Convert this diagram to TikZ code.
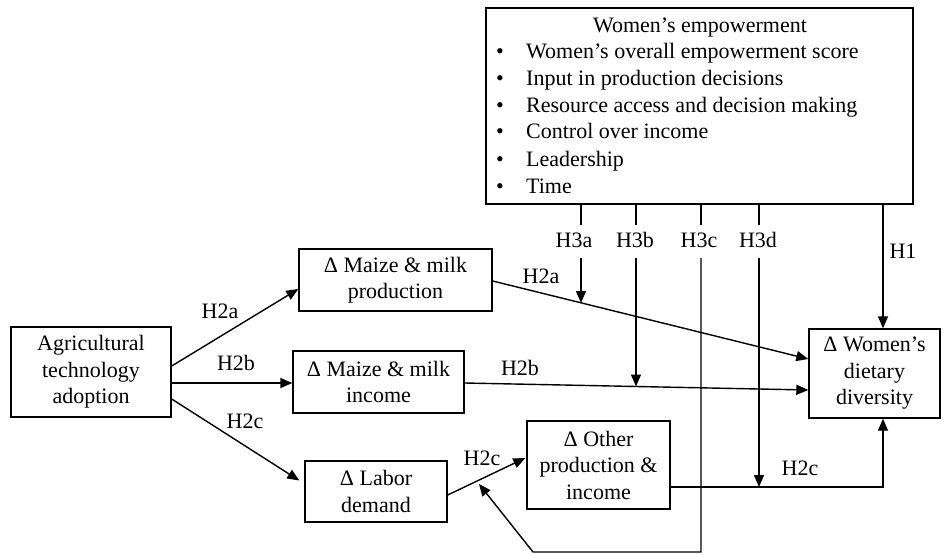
\documentclass[tikz,border=0pt]{standalone}
\usepackage{fontspec}
\setmainfont{Liberation Serif}
\usetikzlibrary{arrows.meta,calc}
\begin{document}
\begin{tikzpicture}[x=1pt,y=-1pt,
  box/.style={draw, line width=1.4pt, align=center, inner sep=0pt, font=\fontsize{22}{26.5}\selectfont},
  lbl/.style={inner sep=0pt, font=\fontsize{22}{26.5}\selectfont, text height=15pt, text depth=5pt},
  conn/.style={line width=1.4pt},
  arr/.style={line width=1.4pt, -{Triangle[length=12pt,width=10pt]}},
]
\useasboundingbox (0,0) rectangle (944,554);

% boxes
\node[box, minimum width=427pt, minimum height=196pt] (emp) at (699.5,106) {};
\node[box, minimum width=160pt, minimum height=90pt] (agri) at (91,372) {Agricultural\\technology\\adoption};
\node[box, minimum width=193pt, minimum height=62pt] (prod) at (395.5,280) {Δ Maize \& milk\\production};
\node[box, minimum width=171pt, minimum height=62pt] (inc) at (378.5,382) {Δ Maize \& milk\\income};
\node[box, minimum width=142pt, minimum height=61pt] (labor) at (376,491.5) {Δ Labor\\demand};
\node[box, minimum width=143pt, minimum height=88pt] (other) at (598.5,465) {Δ Other\\production \&\\income};
\node[box, minimum width=131pt, minimum height=89pt] (women) at (874.5,373.5) {Δ Women’s\\dietary\\diversity};

% empowerment text
\node[lbl] (t0) at (700,27) {Women’s empowerment};
\foreach \y/\t [count=\i] in {53/{Women’s overall empowerment score},80/{Input in production decisions},107/{Resource access and decision making},133/{Control over income},161/{Leadership},188/{Time}}{
  \node[lbl] (b\i) at (500,\y) {•};
  \node[lbl, anchor=west] (t\i) at (526,\y) {\t};
}

% column coordinates
\coordinate (cA) at (581,0);
\coordinate (cB) at (636,0);
\coordinate (cC) at (701,0);
\coordinate (cD) at (759,0);
\coordinate (cH) at (883,0);

% H3 labels
\node[lbl] (lA) at (574,242) {H3a};
\node[lbl] (lB) at (635,242) {H3b};
\node[lbl] (lC) at (699,242) {H3c};
\node[lbl] (lD) at (758,242) {H3d};
\node[lbl] (lH) at (903,253) {H1};

% stubs
\foreach \c in {cA,cB,cC,cD}{
  \draw[conn] (emp.south -| \c) -- ($(emp.south -| \c)+(0,20)$);
}
\coordinate (sA) at (581,258);
\coordinate (sB) at (636,258);
\coordinate (sC) at (701,258);
\coordinate (sD) at (759,258);
\coordinate (eA) at (581,303);
\coordinate (eB) at (636,386.5);
\coordinate (eD) at (759,487);
\coordinate (cc1) at (701,552);
\coordinate (cc2) at (533,552);
\coordinate (cc3) at (479,484);

% H1
\draw[arr] (emp.south -| cH) -- (women.north -| cH);

% left arrows
\draw[arr] ([yshift=6pt]agri.east) -- ([yshift=-9pt]prod.west);
\draw[arr] ([yshift=-11pt]agri.east) -- ([yshift=-1pt]inc.west);
\draw[arr] ([yshift=-27pt]agri.east) -- ([xshift=-5pt,yshift=11pt]labor.west);
\node[lbl] (h2a1) at (220,313) {H2a};
\node[lbl] (h2b1) at (236,365) {H2b};
\node[lbl] (h2c1) at (245,423) {H2c};

% right arrows
\draw[arr] ([yshift=-1pt]prod.east) -- ([yshift=14.5pt]women.west);
\draw[arr] ([yshift=-1pt]inc.east) -- ([yshift=-16.5pt]women.west);
\draw[arr] ([yshift=-3.5pt]labor.east) -- ([xshift=-1pt,yshift=7pt]other.west);
\draw[arr] ([yshift=-22pt]other.east) -| ([xshift=8.5pt]women.south);
\node[lbl] (h2a2) at (541,278) {H2a};
\node[lbl] (h2b2) at (520,370) {H2b};
\node[lbl] (h2c2) at (482,460) {H2c};
\node[lbl] (h2c3) at (800,470) {H2c};

% H3 arrows
\draw[arr] (sA) -- (eA);
\draw[arr] (sB) -- (eB);
\draw[arr] (sD) -- (eD);
\draw[arr] (sC) -- (cc1) -- (cc2) -- (cc3);
\end{tikzpicture}
\end{document}
